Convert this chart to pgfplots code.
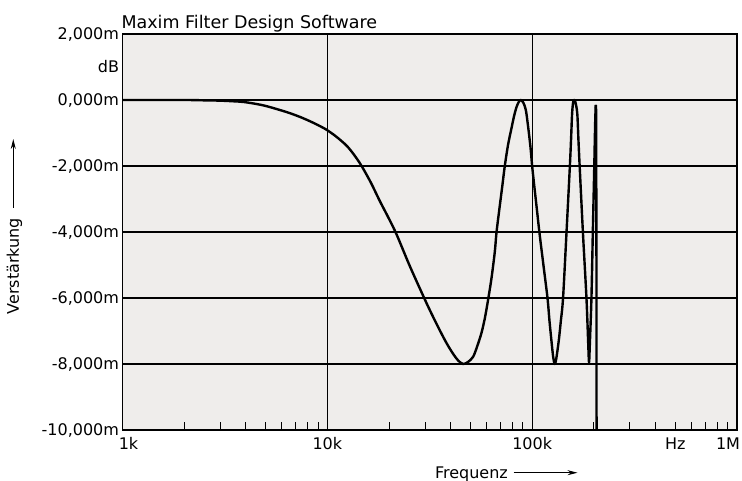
\documentclass[border=0pt]{standalone}
\usepackage{pgfplots}
\pgfplotsset{compat=1.18}
\usepackage{fontspec}
\setmainfont{DejaVu Sans}
\usetikzlibrary{arrows.meta}
\definecolor{paper}{RGB}{239,237,235}
\pgfplotstableread{
f db
1000 0
2000 0
2500 -0.01
3000 -0.02
3500 -0.04
3900 -0.06
4500 -0.12
5000 -0.18
5700 -0.28
6500 -0.39
7400 -0.52
8200 -0.64
9000 -0.76
9900 -0.90
11000 -1.10
12400 -1.38
13500 -1.66
14700 -2.0
16300 -2.5
18000 -3.05
20000 -3.6
21800 -4.08
25300 -5.04
30000 -6.06
32700 -6.55
35400 -6.98
38300 -7.38
41200 -7.70
43600 -7.90
46000 -8.0
48600 -7.94
51500 -7.78
54000 -7.45
56600 -7.05
58800 -6.6
60900 -6.06
63300 -5.4
65700 -4.6
67000 -4.0
69500 -3.2
71500 -2.6
73500 -2.0
76300 -1.35
79300 -0.85
81500 -0.5
83800 -0.22
86000 -0.06
88000 0
90500 -0.08
93100 -0.3
95500 -0.8
98000 -1.4
100300 -2.09
104500 -3.1
108900 -4.1
114000 -5.1
118800 -6.0
121500 -6.7
124200 -7.3
126700 -7.8
128900 -8.0
131000 -7.85
134800 -7.3
138000 -6.7
141500 -6.0
147000 -4.05
152600 -2.06
154800 -1.2
156700 -0.4
158600 -0.06
160500 0
162500 -0.06
166000 -0.4
168200 -1.2
170700 -2.06
177200 -4.1
184100 -6.0
187800 -7.4
189500 -7.95
191200 -7.4
194700 -6.0
197800 -4.0
201000 -2.0
203000 -0.7
204400 -0.15
}\curve
\pgfplotstableread{
f db
204400 -0.15
205200 -0.3
206000 -5
206200 -10
}\drop
\begin{document}
\begin{tikzpicture}
\begin{axis}[
  scale only axis, width=614.5pt, height=396pt,
  at={(0,0)}, anchor=south west,
  xmode=log, xmin=1e3, xmax=1e6, ymin=-10, ymax=2,
  axis background/.style={fill=paper},
  axis line style={line width=1.3pt, black},
  xtick={1e3,1e4,1e5,1e6}, xticklabels={\hspace*{12pt}1k,10k,100k,{}},
  minor xtick={2e3,3e3,4e3,5e3,6e3,7e3,8e3,9e3,2e4,3e4,4e4,5e4,6e4,7e4,8e4,9e4,2e5,3e5,4e5,5e5,6e5,7e5,8e5,9e5},
  ytick={-10,-8,-6,-4,-2,0,2},
  yticklabels={{-10,000m},{-8,000m},{-6,000m},{-4,000m},{-2,000m},{0,000m},{2,000m}},
  extra y ticks={1}, extra y tick labels={dB},
  extra y tick style={grid=none, major tick length=0pt},
  grid=major, major grid style={black, line width=1.1pt},
  tick align=inside, xtick pos=left, ytick pos=left,
  major tick length=0pt, minor tick length=8pt,
  minor tick style={line width=0.9pt, black},
  ticklabel style={font=\fontsize{16}{18}\selectfont, text=black},
  xticklabel style={yshift=-4pt},
  clip=false,
]
\addplot[black, line width=2.4pt, line join=round, smooth, tension=0.5] table[x=f, y=db] {\curve};
\addplot[black, line width=2.4pt, line join=round] table[x=f, y=db] {\drop};
\node[anchor=north, font=\fontsize{16}{18}\selectfont, yshift=-4pt] at (axis cs:5e5,-10) {Hz};
\node[anchor=north, font=\fontsize{16}{18}\selectfont, xshift=-9pt, yshift=-4pt] at (axis cs:1e6,-10) {1M};
\end{axis}
\node[anchor=base west, font=\fontsize{17.5}{20}\selectfont] at (-4.5pt,401.7pt) {Maxim Filter Design Software};
\node[rotate=90, anchor=base west, font=\fontsize{16}{18}\selectfont] at (-103.5pt,112pt) {Verstärkung};
\draw[line width=0.9pt, -{Stealth[length=10pt,width=5pt]}] (-109.2pt,222pt) -- (-109.2pt,291pt);
\node[anchor=base west, font=\fontsize{16}{18}\selectfont] at (309pt,-48.3pt) {Frequenz};
\draw[line width=0.9pt, -{Stealth[length=10pt,width=5pt]}] (391pt,-42.7pt) -- (455pt,-42.7pt);
\pgfresetboundingbox
\path[use as bounding box] (-122.5pt,-51pt) rectangle (619.5pt,430pt);
\end{tikzpicture}
\end{document}
